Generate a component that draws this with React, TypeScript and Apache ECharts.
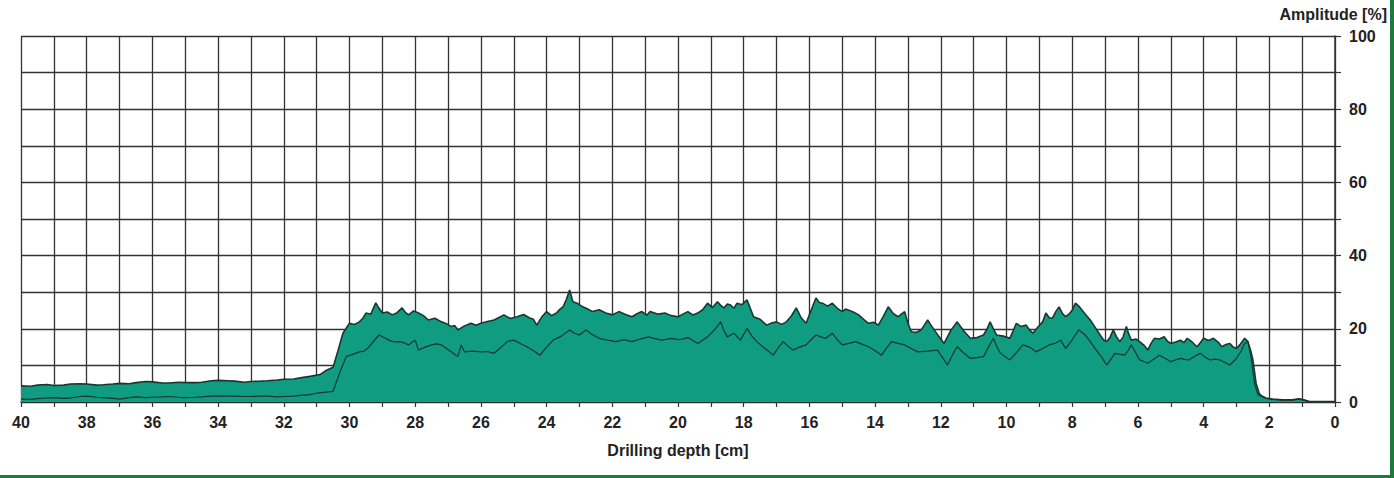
import React, { useEffect, useRef } from "react";
import * as echarts from "echarts";

// Drilling depth [cm] vs amplitude [%] — upper envelope (filled) and lower curve
const upperCurve: [number, number][] = [
  [40, 4.4], [39.7, 4.3], [39.5, 4.6], [39.2, 4.8], [39, 4.5], [38.7, 4.6], [38.5, 4.9], [38.2, 5.0], [38, 4.9],
  [37.7, 4.6], [37.5, 4.7], [37.2, 4.9], [37, 5.1], [36.7, 5.0], [36.5, 5.3], [36.2, 5.6], [36, 5.5],
  [35.7, 5.2], [35.5, 5.2], [35.2, 5.4], [35, 5.3], [34.7, 5.3], [34.5, 5.4], [34.2, 5.8], [34, 5.9],
  [33.7, 5.8], [33.5, 5.7], [33.2, 5.4], [33, 5.6], [32.7, 5.7], [32.5, 5.8], [32.2, 6.0], [32, 6.2],
  [31.7, 6.3], [31.5, 6.6], [31.2, 7.0], [30.9, 7.5], [30.7, 8.7], [30.5, 9.5], [30.35, 14], [30.2, 18.8],
  [30.0, 21.5], [29.85, 21.2], [29.7, 21.9], [29.6, 22.8], [29.5, 24.3], [29.35, 24.0], [29.2, 27.1],
  [29.1, 25.6], [29.0, 24.3], [28.85, 24.6], [28.7, 23.8], [28.55, 24.4], [28.4, 25.7], [28.3, 24.5],
  [28.2, 23.8], [28.05, 24.9], [27.9, 24.3], [27.75, 23.6], [27.6, 22.4], [27.4, 22.9], [27.2, 21.9],
  [27.05, 21.4], [26.9, 20.6], [26.8, 20.9], [26.7, 19.7], [26.5, 20.8], [26.3, 21.5], [26.15, 21.0],
  [26.0, 21.5], [25.8, 22.0], [25.6, 22.4], [25.45, 23.1], [25.3, 23.8], [25.1, 22.8], [24.9, 23.3],
  [24.7, 23.9], [24.5, 22.9], [24.4, 22.6], [24.3, 21.0], [24.15, 23.2], [24.0, 24.7], [23.85, 23.6],
  [23.7, 24.3], [23.6, 25.3], [23.5, 26.0], [23.4, 28.0], [23.3, 30.6], [23.2, 27.4], [23.05, 26.9],
  [22.9, 26.0], [22.75, 25.4], [22.6, 24.7], [22.4, 25.2], [22.2, 24.3], [22.0, 23.8], [21.8, 24.7],
  [21.6, 23.9], [21.4, 23.3], [21.25, 24.1], [21.1, 24.7], [20.95, 23.7], [20.85, 24.7], [20.6, 24.0],
  [20.4, 24.3], [20.2, 23.6], [20.0, 23.3], [19.85, 24.0], [19.7, 24.7], [19.55, 23.8], [19.4, 24.3],
  [19.25, 25.2], [19.1, 27.0], [18.95, 25.8], [18.8, 27.4], [18.7, 26.4], [18.6, 25.7], [18.5, 26.8],
  [18.4, 26.5], [18.3, 25.6], [18.2, 27.0], [18.05, 26.6], [17.9, 27.9], [17.8, 25.6], [17.7, 23.3],
  [17.5, 22.6], [17.3, 21.0], [17.15, 21.6], [17.0, 21.9], [16.85, 21.2], [16.7, 21.9], [16.55, 23.5],
  [16.4, 25.7], [16.25, 23.0], [16.1, 21.5], [15.95, 25.0], [15.8, 28.4], [15.7, 27.2], [15.6, 27.0],
  [15.45, 26.2], [15.3, 27.0], [15.15, 25.6], [15.0, 24.7], [14.9, 25.4], [14.8, 25.1], [14.65, 24.5],
  [14.5, 23.8], [14.35, 22.6], [14.2, 21.5], [14.05, 21.8], [13.9, 21.0], [13.75, 23.4], [13.6, 26.0],
  [13.45, 24.2], [13.3, 23.3], [13.2, 24.0], [13.1, 24.7], [13.0, 21.5], [12.9, 19.2], [12.75, 19.0],
  [12.6, 19.7], [12.5, 21.0], [12.4, 22.4], [12.3, 21.0], [12.2, 19.7], [12.05, 17.8], [11.9, 16.0],
  [11.7, 19.5], [11.5, 21.9], [11.3, 19.4], [11.1, 17.4], [10.9, 17.6], [10.7, 18.3], [10.6, 19.8],
  [10.5, 21.9], [10.4, 20.0], [10.3, 18.3], [10.1, 18.0], [9.9, 17.4], [9.8, 19.4], [9.7, 21.5],
  [9.55, 20.6], [9.4, 21.0], [9.3, 19.7], [9.2, 18.8], [9.05, 20.4], [8.9, 21.9], [8.8, 24.3],
  [8.7, 23.0], [8.6, 22.9], [8.5, 24.7], [8.4, 26.0], [8.3, 24.2], [8.2, 23.3], [8.1, 24.0], [8.0, 25.1],
  [7.9, 27.0], [7.8, 26.2], [7.7, 25.1], [7.6, 24.0], [7.45, 22.4], [7.3, 20.4], [7.15, 18.3],
  [7.05, 17.0], [6.95, 16.5], [6.85, 17.6], [6.75, 19.7], [6.65, 17.8], [6.55, 16.5], [6.45, 17.8],
  [6.35, 20.6], [6.28, 18.6], [6.2, 16.9], [6.05, 17.2], [5.95, 16.5], [5.8, 15.4], [5.7, 14.2],
  [5.6, 16.0], [5.5, 17.4], [5.35, 17.2], [5.2, 17.8], [5.1, 16.6], [5.0, 16.0], [4.85, 16.4],
  [4.7, 16.9], [4.6, 16.2], [4.5, 17.4], [4.35, 16.4], [4.2, 15.1], [4.1, 16.2], [4.0, 17.4],
  [3.85, 16.8], [3.7, 17.4], [3.55, 16.3], [3.45, 15.1], [3.3, 15.8], [3.2, 16.0], [3.1, 15.0],
  [3.0, 14.6], [2.9, 15.6], [2.75, 17.4], [2.65, 16.5], [2.55, 13.5], [2.5, 11.5], [2.4, 5.0],
  [2.3, 2.2], [2.2, 1.5], [2.1, 1.1], [1.9, 0.8], [1.6, 0.6], [1.3, 0.6], [1.1, 0.9], [0.95, 0.6],
  [0.8, 0.2], [0.4, 0.1], [0, 0.1],
];

const lowerCurve: [number, number][] = [
  [40, 0.8], [39.7, 0.7], [39.5, 0.9], [39.2, 1.1], [39, 1.2], [38.7, 1.0], [38.5, 1.1], [38.2, 1.5],
  [38, 1.6], [37.7, 1.3], [37.5, 1.2], [37.2, 1.0], [37, 0.8], [36.7, 1.2], [36.5, 1.4], [36.2, 1.2],
  [36, 1.3], [35.7, 1.4], [35.5, 1.5], [35.2, 1.3], [35, 1.2], [34.7, 1.3], [34.5, 1.4], [34.2, 1.6],
  [34, 1.7], [33.7, 1.6], [33.5, 1.6], [33.2, 1.5], [33, 1.5], [32.7, 1.6], [32.5, 1.6], [32.2, 1.4],
  [32, 1.5], [31.7, 1.6], [31.5, 1.8], [31.2, 2.0], [31, 2.4], [30.7, 2.7], [30.5, 2.9], [30.3, 8],
  [30.1, 12.4], [29.9, 13.0], [29.7, 13.7], [29.55, 13.9], [29.4, 15.1], [29.25, 16.8], [29.1, 18.3],
  [28.95, 17.6], [28.8, 16.9], [28.65, 16.4], [28.5, 16.5], [28.35, 16.2], [28.2, 15.6], [28.1, 16.3],
  [28.0, 16.9], [27.9, 14.2], [27.7, 15.0], [27.5, 15.6], [27.35, 15.9], [27.2, 15.6], [26.95, 14.0],
  [26.7, 12.4], [26.6, 15.6], [26.5, 13.7], [26.25, 13.9], [26.0, 13.7], [25.8, 13.8], [25.6, 13.3],
  [25.4, 14.8], [25.2, 16.5], [25.0, 16.9], [24.8, 16.0], [24.6, 15.1], [24.4, 14.0], [24.2, 12.8],
  [24.0, 15.0], [23.8, 16.9], [23.55, 18.0], [23.3, 19.7], [23.15, 18.8], [23.0, 18.3], [22.8, 19.7],
  [22.6, 18.4], [22.4, 17.4], [22.15, 16.9], [21.9, 16.5], [21.65, 17.0], [21.4, 16.5], [21.15, 17.2],
  [20.9, 17.8], [20.7, 17.3], [20.5, 16.9], [20.2, 17.4], [19.95, 17.0], [19.7, 17.6], [19.4, 16.0],
  [19.25, 16.9], [19.1, 17.8], [18.9, 19.6], [18.7, 21.9], [18.6, 19.5], [18.5, 17.8], [18.3, 18.8],
  [18.1, 16.9], [17.9, 20.1], [17.75, 18.0], [17.6, 16.5], [17.35, 14.6], [17.1, 12.8], [16.95, 14.8],
  [16.8, 16.5], [16.65, 15.2], [16.5, 14.2], [16.3, 15.0], [16.1, 15.6], [15.95, 17.0], [15.8, 18.3],
  [15.65, 17.8], [15.5, 17.4], [15.3, 18.8], [15.15, 17.0], [15.0, 15.6], [14.8, 16.0], [14.6, 16.5],
  [14.4, 15.8], [14.2, 15.1], [14.0, 14.0], [13.8, 12.8], [13.65, 14.8], [13.5, 16.5], [13.3, 16.0],
  [13.1, 15.6], [12.9, 14.6], [12.7, 13.7], [12.4, 13.9], [12.1, 14.2], [11.95, 12.2], [11.8, 10.1],
  [11.65, 12.8], [11.5, 15.1], [11.3, 13.4], [11.1, 11.9], [10.9, 12.1], [10.7, 12.4], [10.55, 15.0],
  [10.4, 17.4], [10.3, 15.2], [10.2, 13.5], [10.05, 12.4], [9.9, 11.5], [9.7, 13.5], [9.5, 15.6],
  [9.3, 15.0], [9.1, 13.7], [8.9, 14.6], [8.7, 15.6], [8.5, 16.1], [8.35, 16.9], [8.2, 14.6],
  [8.0, 17.0], [7.8, 19.7], [7.7, 19.0], [7.6, 18.3], [7.45, 16.5], [7.3, 14.6], [7.1, 12.2],
  [6.95, 10.1], [6.8, 12.0], [6.7, 13.3], [6.55, 13.0], [6.4, 12.8], [6.3, 14.0], [6.2, 15.6],
  [6.05, 13.2], [5.95, 11.5], [5.8, 11.0], [5.7, 10.6], [5.5, 11.8], [5.35, 12.8], [5.15, 11.8],
  [5.0, 11.0], [4.85, 11.5], [4.7, 11.9], [4.55, 11.6], [4.45, 11.5], [4.25, 12.6], [4.1, 13.3],
  [3.95, 12.2], [3.8, 11.5], [3.65, 11.7], [3.5, 11.5], [3.35, 10.8], [3.2, 10.1], [3.1, 11.0],
  [3.0, 11.9], [2.85, 14.0], [2.75, 16.0], [2.65, 16.5], [2.55, 12.0], [2.45, 5.0], [2.35, 2.0],
  [2.2, 1.4], [2.1, 1.0], [1.9, 0.7], [1.6, 0.5], [1.3, 0.5], [1.1, 0.8], [0.95, 0.5], [0.8, 0.1],
  [0.4, 0.0], [0, 0.0],
];

const xLabelValues = [40, 38, 36, 34, 32, 30, 28, 26, 24, 22, 20, 18, 16, 14, 12, 10, 8, 6, 4, 2, 0];
const yLabelValues = [0, 20, 40, 60, 80, 100];

const FILL = "#109c80";
const LINE = "#1a362e";
const GRID = "#333333";
const BORDER = "#1f7a3f";
const FONT = "'Liberation Sans', Arial, sans-serif";

export default function App() {
  const ref = useRef<HTMLDivElement>(null);

  useEffect(() => {
    if (!ref.current) return;
    const chart = echarts.init(ref.current, undefined, { renderer: "svg" });
    chart.setOption({
      animation: false,
      backgroundColor: "#ffffff",
      grid: { left: 21, right: 59, top: 36, bottom: 76, containLabel: false },
      xAxis: {
        type: "value",
        inverse: true,
        min: 0,
        max: 40,
        interval: 1,
        name: "Drilling depth [cm]",
        nameLocation: "middle",
        nameGap: 40,
        nameTextStyle: { fontFamily: FONT, fontWeight: "bold", fontSize: 16, color: "#222" },
        axisLine: { show: true, lineStyle: { color: GRID, width: 1.5 } },
        axisTick: { show: true, length: 5, lineStyle: { color: GRID, width: 1.2 } },
        axisLabel: {
          margin: 12,
          fontFamily: FONT,
          fontWeight: "bold",
          fontSize: 16,
          color: "#222",
          formatter: (v: number) => (xLabelValues.includes(v) ? String(v) : ""),
        },
        splitLine: { show: true, lineStyle: { color: GRID, width: 1.3 } },
      },
      yAxis: {
        type: "value",
        position: "right",
        min: 0,
        max: 100,
        interval: 10,
        axisLine: { show: true, lineStyle: { color: GRID, width: 1.5 } },
        axisTick: { show: true, length: 6, lineStyle: { color: GRID, width: 1.2 } },
        axisLabel: {
          margin: 14,
          fontFamily: FONT,
          fontWeight: "bold",
          fontSize: 16,
          color: "#222",
          formatter: (v: number) => (yLabelValues.includes(v) ? String(v) : ""),
        },
        splitLine: { show: true, lineStyle: { color: GRID, width: 1.3 } },
      },
      series: [
        {
          type: "line",
          data: upperCurve,
          showSymbol: false,
          symbol: "none",
          lineStyle: { color: LINE, width: 1.6 },
          areaStyle: { color: FILL, opacity: 1 },
          z: 3,
        },
        {
          type: "line",
          data: lowerCurve,
          showSymbol: false,
          symbol: "none",
          lineStyle: { color: LINE, width: 1.2 },
          z: 4,
        },
      ],
      graphic: [
        {
          type: "text",
          right: 7,
          top: 6,
          style: {
            text: "Amplitude [%]",
            fontFamily: FONT,
            fontWeight: "bold",
            fontSize: 16,
            fill: "#222",
          },
        },
        { type: "rect", shape: { x: 1390, y: 0, width: 4, height: 478 }, style: { fill: BORDER } },
        { type: "rect", shape: { x: 0, y: 475, width: 1394, height: 3 }, style: { fill: BORDER } },
      ],
    });
    return () => chart.dispose();
  }, []);

  return (
    <div style={{ position: "fixed", left: 0, top: 0, width: 1394, height: 478, background: "#fff" }}>
      <div ref={ref} style={{ width: 1394, height: 478 }} />
    </div>
  );
}
